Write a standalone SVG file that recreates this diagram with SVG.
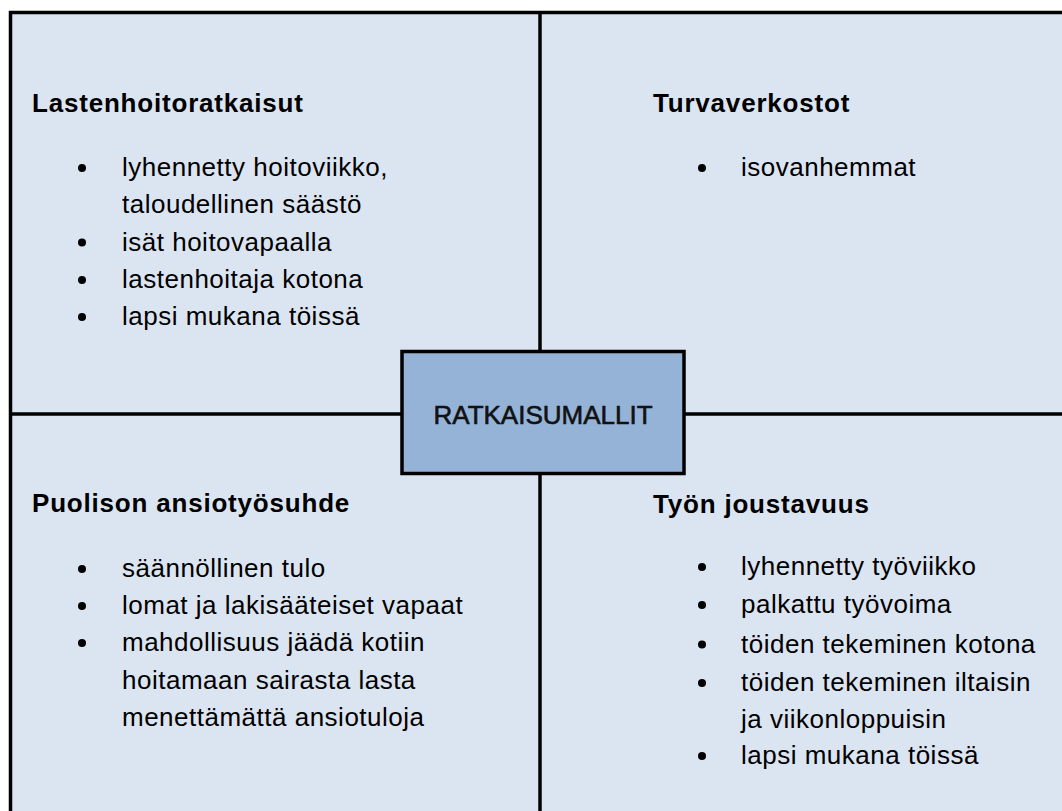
<svg xmlns="http://www.w3.org/2000/svg" width="1062" height="811" viewBox="0 0 1062 811">
<style>
.h{font-family:"Liberation Sans",Arial,sans-serif;font-weight:bold;font-size:26px;letter-spacing:0.8px;fill:#000}
.t{font-family:"Liberation Sans",Arial,sans-serif;font-size:26px;letter-spacing:0.5px;fill:#000}
.c{font-family:"Liberation Sans",Arial,sans-serif;font-size:26px;fill:#111;stroke:#111;stroke-width:0.6px;text-anchor:middle}
.ln{stroke:#000;stroke-width:3.5;fill:none}
</style>
<rect x="0" y="0" width="1062" height="811" fill="#fff"/>
<rect x="10.5" y="12.5" width="1070" height="820" fill="#dbe5f1" stroke="#000" stroke-width="3.5"/>
<g id="connectors">
<line class="ln" x1="12" y1="414" x2="1062" y2="414"/>
<line class="ln" x1="540" y1="13" x2="540" y2="811"/>
</g>
<g id="q1">
<text class="h" x="32" y="112">Lastenhoitoratkaisut</text>
<circle cx="82" cy="168" r="4"/>
<text class="t" x="122" y="176">lyhennetty hoitoviikko,</text>
<text class="t" x="122" y="213">taloudellinen säästö</text>
<circle cx="82" cy="242.5" r="4"/>
<text class="t" x="122" y="250.5">isät hoitovapaalla</text>
<circle cx="82" cy="280" r="4"/>
<text class="t" x="122" y="288">lastenhoitaja kotona</text>
<circle cx="82" cy="317" r="4"/>
<text class="t" x="122" y="325">lapsi mukana töissä</text>
</g>
<g id="q2">
<text class="h" x="653" y="112">Turvaverkostot</text>
<circle cx="702" cy="168" r="4"/>
<text class="t" x="741" y="176">isovanhemmat</text>
</g>
<g id="q3">
<text class="h" x="32" y="512">Puolison ansiotyösuhde</text>
<circle cx="82" cy="569" r="4"/>
<text class="t" x="122" y="577">säännöllinen tulo</text>
<circle cx="82" cy="606" r="4"/>
<text class="t" x="122" y="614">lomat ja lakisääteiset vapaat</text>
<circle cx="82" cy="643" r="4"/>
<text class="t" x="122" y="651">mahdollisuus jäädä kotiin</text>
<text class="t" x="122" y="689">hoitamaan sairasta lasta</text>
<text class="t" x="122" y="726">menettämättä ansiotuloja</text>
</g>
<g id="q4">
<text class="h" x="653" y="513">Työn joustavuus</text>
<circle cx="702" cy="567" r="4"/>
<text class="t" x="741" y="575">lyhennetty työviikko</text>
<circle cx="702" cy="605" r="4"/>
<text class="t" x="741" y="613">palkattu työvoima</text>
<circle cx="702" cy="644.5" r="4"/>
<text class="t" x="741" y="652.5">töiden tekeminen kotona</text>
<circle cx="702" cy="683" r="4"/>
<text class="t" x="741" y="691">töiden tekeminen iltaisin</text>
<text class="t" x="741" y="728">ja viikonloppuisin</text>
<circle cx="702" cy="756" r="4"/>
<text class="t" x="741" y="764">lapsi mukana töissä</text>
</g>
<g id="center">
<rect x="402" y="351.5" width="282" height="122" fill="#95b3d7" stroke="#000" stroke-width="3.5"/>
<text class="c" x="543" y="424">RATKAISUMALLIT</text>
</g>
</svg>
